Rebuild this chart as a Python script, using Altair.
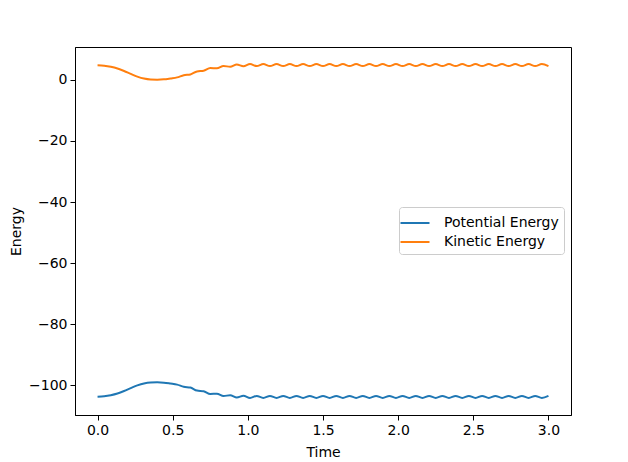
import pandas as pd
import altair as alt

# sample times (s)
time = [0.0, 0.0441, 0.0882, 0.1324, 0.1765, 0.2206, 0.2647, 0.3088, 0.3529, 0.3971,
        0.4412, 0.4853, 0.5294, 0.5735, 0.6176, 0.6618, 0.7059, 0.75, 0.7941, 0.8382,
        0.8824, 0.9265, 0.9706, 1.0147, 1.0588, 1.1029, 1.1471, 1.1912, 1.2353, 1.2794,
        1.3235, 1.3676, 1.4118, 1.4559, 1.5, 1.5441, 1.5882, 1.6324, 1.6765, 1.7206,
        1.7647, 1.8088, 1.8529, 1.8971, 1.9412, 1.9853, 2.0294, 2.0735, 2.1176, 2.1618,
        2.2059, 2.25, 2.2941, 2.3382, 2.3824, 2.4265, 2.4706, 2.5147, 2.5588, 2.6029,
        2.6471, 2.6912, 2.7353, 2.7794, 2.8235, 2.8676, 2.9118, 2.9559, 3.0]

potential = [-103.8, -103.65, -103.3, -102.75, -101.95, -101.0, -100.1, -99.45, -99.15, -99.1,
             -99.2, -99.5, -99.85, -100.55, -100.8, -101.8, -102.0, -102.9, -102.85, -103.6,
             -103.3, -104.05, -103.5, -104.2, -103.55, -104.2, -103.55, -104.2, -103.55, -104.2,
             -103.55, -104.2, -103.55, -104.2, -103.55, -104.2, -103.55, -104.2, -103.55, -104.2,
             -103.55, -104.2, -103.55, -104.2, -103.55, -104.2, -103.55, -104.2, -103.55, -104.2,
             -103.55, -104.2, -103.55, -104.2, -103.55, -104.2, -103.55, -104.2, -103.55, -104.2,
             -103.55, -104.2, -103.55, -104.2, -103.55, -104.2, -103.55, -104.2, -103.55]

kinetic = [4.8, 4.65, 4.3, 3.75, 2.95, 2.0, 1.1, 0.45, 0.15, 0.1,
           0.2, 0.5, 0.85, 1.55, 1.8, 2.8, 3.0, 3.9, 3.85, 4.6,
           4.3, 5.05, 4.5, 5.2, 4.55, 5.2, 4.55, 5.2, 4.55, 5.2,
           4.55, 5.2, 4.55, 5.2, 4.55, 5.2, 4.55, 5.2, 4.55, 5.2,
           4.55, 5.2, 4.55, 5.2, 4.55, 5.2, 4.55, 5.2, 4.55, 5.2,
           4.55, 5.2, 4.55, 5.2, 4.55, 5.2, 4.55, 5.2, 4.55, 5.2,
           4.55, 5.2, 4.55, 5.2, 4.55, 5.2, 4.55, 5.2, 4.55]

series_names = ["Potential Energy", "Kinetic Energy"]
series_colors = ["#1f77b4", "#ff7f0e"]
x_ticks = [0.0, 0.5, 1.0, 1.5, 2.0, 2.5, 3.0]
y_ticks = [0, -20, -40, -60, -80, -100]

df = pd.concat([
    pd.DataFrame({"Time": time, "Energy": potential, "series": series_names[0]}),
    pd.DataFrame({"Time": time, "Energy": kinetic, "series": series_names[1]}),
])

chart = (
    alt.Chart(df)
    .mark_line(strokeWidth=2, interpolate="monotone")
    .encode(
        x=alt.X("Time:Q", title="Time",
                scale=alt.Scale(domain=[-0.15, 3.15], nice=False, zero=False),
                axis=alt.Axis(values=x_ticks, format=".1f", titlePadding=8)),
        y=alt.Y("Energy:Q", title="Energy",
                scale=alt.Scale(domain=[-109.8, 10.8], nice=False, zero=False),
                axis=alt.Axis(values=y_ticks, format="d", titlePadding=5)),
        color=alt.Color("series:N", sort=series_names,
                        scale=alt.Scale(domain=series_names, range=series_colors),
                        legend=alt.Legend(title=None, orient="none", legendX=324, legendY=160,
                                          symbolType="M-1.45,0H1.45", symbolSize=400,
                                          symbolStrokeWidth=2, symbolFillColor="transparent",
                                          labelFontSize=14,
                                          labelFont="DejaVu Sans", labelColor="black",
                                          labelOffset=18, rowPadding=1, padding=5,
                                          strokeColor="#cccccc", fillColor="white",
                                          cornerRadius=3)),
        detail="series:N",
    )
    .properties(
        width=496, height=368,
        autosize=alt.AutoSizeParams(type="none"),
        padding={"left": 67, "top": 39, "right": 49, "bottom": 47},
    )
    .configure_view(stroke="black", strokeWidth=1)
    .configure_axis(
        grid=False, domainColor="black", tickColor="black", tickSize=5,
        labelFont="DejaVu Sans", labelFontSize=14, labelColor="black", labelPadding=3,
        titleFont="DejaVu Sans", titleFontSize=14, titleFontWeight="normal", titleColor="black",
    )
)

chart.save("out.html", embed_options={"renderer": "svg", "actions": False})

# keep the page from scrolling when the chart runs into the bottom margin
with open("out.html") as f:
    html = f.read()
html = html.replace("<head>", "<head>\n  <style>body { overflow: hidden; }</style>", 1)
with open("out.html", "w") as f:
    f.write(html)
